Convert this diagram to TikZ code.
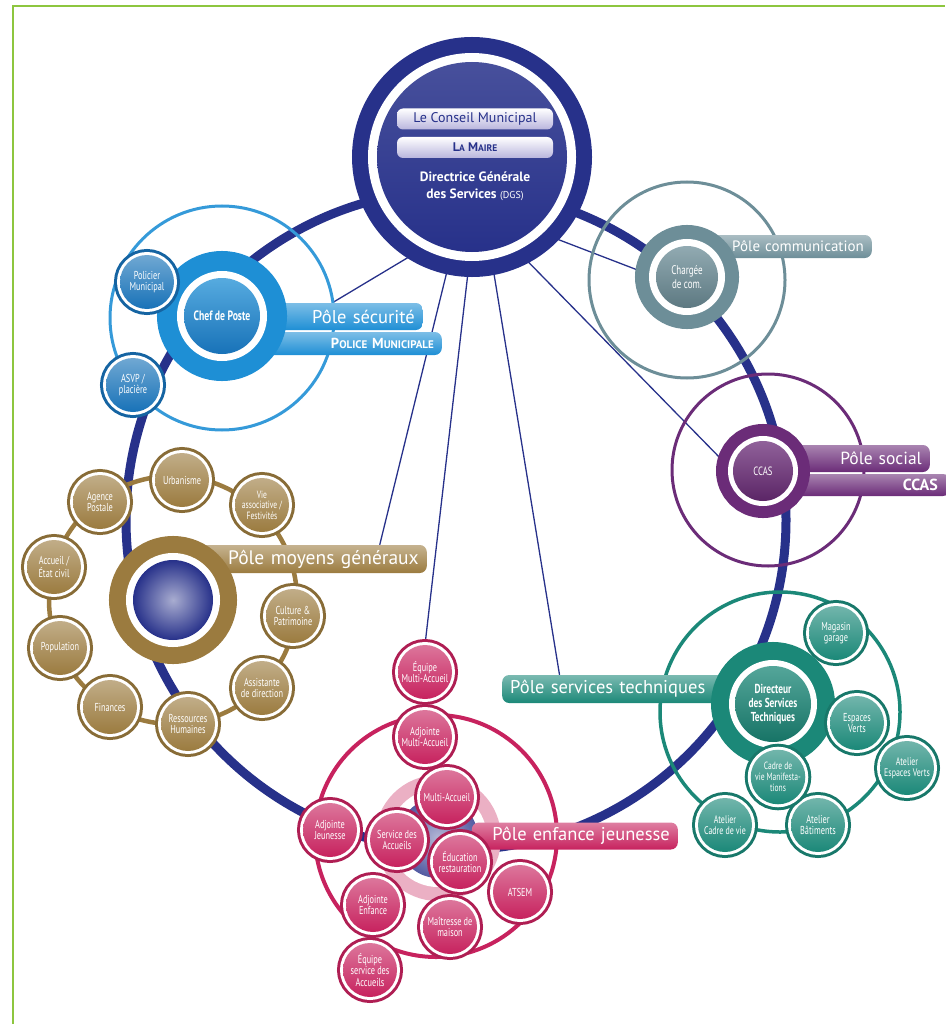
\documentclass[tikz,border=0pt]{standalone}
\usepackage{fontspec}
\setmainfont{PT Sans}
\newfontfamily\cond[FakeStretch=0.72]{PT Sans}
\usetikzlibrary{calc}
\pgfdeclarelayer{lines}
\pgfdeclarelayer{ringl}
\pgfsetlayers{lines,ringl,main}
\definecolor{navy}{HTML}{27318A}
\definecolor{limeg}{HTML}{8DC63F}
\definecolor{secblue}{HTML}{1E8FD5}
\definecolor{secdark}{HTML}{1872B8}
\definecolor{commg}{HTML}{6D8E98}
\definecolor{purp}{HTML}{6B2C78}
\definecolor{goldc}{HTML}{9B7B3F}
\definecolor{tealc}{HTML}{1B8878}
\definecolor{pinkc}{HTML}{C7225E}
\definecolor{palepink}{HTML}{EBB0C4}
\definecolor{lav}{HTML}{B9B5DD}
\tikzset{
  every node/.style={inner sep=0pt},
  sat/.style={circle, minimum size=54pt, inner sep=0pt, top color=#1!62!white, bottom color=#1,
    preaction={draw=#1!88!black, line width=12pt}, preaction={draw=white, line width=6pt},
    text=white, align=center, font=\cond\fontsize{11.5}{11.5}\selectfont},
  bar/.style={rounded corners=7pt, top color=#1!58!white, bottom color=#1, text=white, inner xsep=8pt, inner ysep=0pt},
  pill/.style={rounded corners=6pt, minimum width=156pt, minimum height=21pt, top color=white, bottom color=lav, text=navy},
  link/.style={navy, line width=1.3pt},
  thin/.style={line width=3pt}
}
\begin{document}
\begin{tikzpicture}[x=1pt,y=-1pt]
\useasboundingbox (0,0) rectangle (945,1024);
\draw[limeg, line width=2.5pt] (13,1024) -- (13,6) -- (945,6);

% ---------- DGS ----------
\node[circle, minimum size=190pt, top color=navy!85!white, bottom color=navy,
  preaction={draw=navy, line width=50pt}, preaction={draw=white, line width=18pt}] (dgs) at (472,157) {};
\node[pill, font=\fontsize{14}{16}\selectfont] (conseil) at (475,119) {Le Conseil Municipal};
\node[pill, font=\bfseries\fontsize{12.5}{14}\selectfont] (maire) at (475,147.5) {L{\fontsize{9.5}{12}\selectfont A} M{\fontsize{9.5}{12}\selectfont AIRE}};
\node[text=white, font=\bfseries\fontsize{13.5}{17}\selectfont, align=center] (dgstxt) at (475,186) {Directrice Générale\\des Services {\mdseries\fontsize{10}{12}\selectfont (DGS)}};

% ---------- big ring and pole circles ----------
\coordinate (ringc) at (456,520);
\begin{pgfonlayer}{ringl}
\draw[navy, line width=9pt] (ringc) circle[radius=330pt];
\draw[thin, secblue!90!white] (222,318) circle[radius=112pt];
\draw[thin, commg] (687,280) circle[radius=98pt];
\draw[thin, purp] (768,470) circle[radius=96pt];
\draw[thin, tealc, line width=3.5pt] (780,712) circle[radius=120pt];
\draw[thin, pinkc, line width=4pt] (436,836) circle[radius=121pt];
\end{pgfonlayer}

% ---------- Pôle sécurité ----------
\node[bar=secblue, text width=165pt, minimum height=27pt, anchor=east, align=right,
  font=\fontsize{18.5}{20}\selectfont] (secbar1) at (423,316.5) {Pôle sécurité};
\node[bar=secblue, text width=180pt, minimum height=23pt, anchor=east, align=right,
  font=\bfseries\fontsize{14.5}{16}\selectfont] (secbar2) at (442,343.5) {P{\fontsize{11}{12}\selectfont OLICE} M{\fontsize{11}{12}\selectfont UNICIPALE}};
\node[circle, minimum size=76pt, top color=secblue!75!white, bottom color=secdark,
  preaction={draw=secblue, line width=54pt}, preaction={draw=white, line width=14pt},
  text=white, font=\cond\bfseries\fontsize{13.5}{15}\selectfont] (chef) at (222,316) {Chef de Poste};
\node[sat=secdark] (policier) at (147,282) {Policier\\Municipal};
\node[sat=secdark] (asvp) at (133,385) {ASVP /\\placière};

% ---------- Pôle communication ----------
\node[bar=commg, text width=156pt, minimum height=23pt, anchor=east, align=right,
  font=\fontsize{15}{17}\selectfont] (combar) at (872,246.5) {Pôle communication};
\node[circle, minimum size=62pt, top color=commg!75!white, bottom color=commg!85!black,
  preaction={draw=commg, line width=42pt}, preaction={draw=white, line width=14pt},
  text=white, align=center, font=\cond\fontsize{12.5}{13.5}\selectfont] (comm) at (687,277) {Chargée\\de com.};

% ---------- Pôle social ----------
\node[bar=purp, text width=130pt, minimum height=27pt, anchor=east, align=right,
  font=\fontsize{17.5}{20}\selectfont] (socbar1) at (930,458.5) {Pôle social};
\node[bar=purp, text width=155pt, minimum height=22pt, anchor=east, align=right, inner xsep=12pt,
  font=\bfseries\fontsize{16}{18}\selectfont] (socbar2) at (950,485) {CCAS};
\node[circle, minimum size=60pt, top color=purp!75!white, bottom color=purp!85!black,
  preaction={draw=purp, line width=34pt}, preaction={draw=white, line width=10pt},
  text=white, font=\cond\fontsize{12}{13}\selectfont] (ccas) at (763,471) {CCAS};

% ---------- Pôle moyens généraux ----------
\coordinate (mgc) at (173,600);
\draw[goldc, line width=4.5pt] (mgc) circle[radius=124pt];
\node[sat=goldc] (agence) at (100,502) {Agence\\Postale};
\node[sat=goldc] (urba) at (182,480) {Urbanisme};
\node[sat=goldc, font=\cond\fontsize{10.5}{10.5}\selectfont] (vie) at (262,505) {Vie\\associative /\\Festivités};
\node[sat=goldc] (culture) at (293,616) {Culture \&\\Patrimoine};
\node[sat=goldc] (assist) at (262,688) {Assistante\\de direction};
\node[sat=goldc] (rh) at (188,724) {Ressources\\Humaines};
\node[sat=goldc] (fin) at (110,707) {Finances};
\node[sat=goldc] (pop) at (60,648) {Population};
\node[sat=goldc] (accueil) at (54,567) {Accueil /\\État civil};
\node[bar=goldc, text width=220pt, minimum height=28pt, anchor=east, align=right,
  font=\fontsize{19.5}{22}\selectfont] (mgbar) at (427,559) {Pôle moyens généraux};
\node[circle, minimum size=80pt, inner color=navy!40!white, outer color=navy,
  preaction={draw=goldc, line width=48pt}, preaction={draw=white, line width=14pt}] (mgcore) at (mgc) {};

% ---------- Pôle services techniques ----------
\node[bar=tealc, text width=245pt, minimum height=28pt, anchor=west, align=left,
  font=\fontsize{18.5}{22}\selectfont] (tsbar) at (502,689) {Pôle services techniques};
\node[circle, minimum size=76pt, top color=tealc!75!white, bottom color=tealc!85!black,
  preaction={draw=tealc, line width=48pt}, preaction={draw=white, line width=12pt},
  text=white, align=center, font=\cond\bfseries\fontsize{13}{14}\selectfont] (dst) at (773,704) {Directeur\\des Services\\Techniques};
\node[sat=tealc] (magasin) at (836,633) {Magasin\\garage};
\node[sat=tealc] (espaces) at (857,723) {Espaces\\Verts};
\node[sat=tealc, font=\cond\fontsize{11}{11.5}\selectfont] (atev) at (907,768) {Atelier\\Espaces Verts};
\node[sat=tealc] (atbat) at (818,825) {Atelier\\Bâtiments};
\node[sat=tealc, font=\cond\fontsize{11}{11.5}\selectfont] (atcv) at (725,825) {Atelier\\Cadre de vie};
\node[sat=tealc, font=\cond\fontsize{10.5}{11}\selectfont] (cvm) at (778,777) {Cadre de\\vie Manifesta-\\tions};

% ---------- Pôle enfance jeunesse ----------
\node[circle, minimum size=80pt, inner color=navy!35!white, outer color=navy!80!white,
  preaction={draw=palepink, line width=46pt}, preaction={draw=white, line width=18pt}] (ejcore) at (438,838) {};
\node[bar=pinkc, text width=190pt, minimum height=27pt, anchor=east, align=right,
  font=\fontsize{18.5}{21}\selectfont] (ejbar) at (678,836) {Pôle enfance jeunesse};
\node[sat=pinkc] (eqma) at (425,672) {Équipe\\Multi-Accueil};
\node[sat=pinkc] (adjma) at (425,737) {Adjointe\\Multi-Accueil};
\node[sat=pinkc] (ma) at (447,797) {Multi-Accueil};
\node[sat=pinkc] (sda) at (397,840) {Service des\\Accueils};
\node[sat=pinkc] (edu) at (460,862) {Éducation\\restauration};
\node[sat=pinkc] (atsem) at (520,892) {ATSEM};
\node[sat=pinkc] (adjj) at (330,830) {Adjointe\\Jeunesse};
\node[sat=pinkc] (adje) at (373,905) {Adjointe\\Enfance};
\node[sat=pinkc] (maison) at (450,927) {Maîtresse de\\maison};
\node[sat=pinkc] (eqsa) at (370,970) {Équipe\\service des\\Accueils};

% ---------- links from DGS ----------
\begin{pgfonlayer}{lines}
\draw[link] (dgs.245) -- (secbar1.north);
\draw[link] (dgs.258) -- ($(mgbar.north west)!0.8!(mgbar.north east)$);
\draw[link] (dgs.269) -- (eqma.north);
\draw[link] (dgs.281) -- ($(tsbar.north west)!0.22!(tsbar.north east)$);
\draw[link] (dgs.294) -- (ccas.west);
\draw[link] (dgs.310) -- (comm.west);
\end{pgfonlayer}
\end{tikzpicture}
\end{document}
